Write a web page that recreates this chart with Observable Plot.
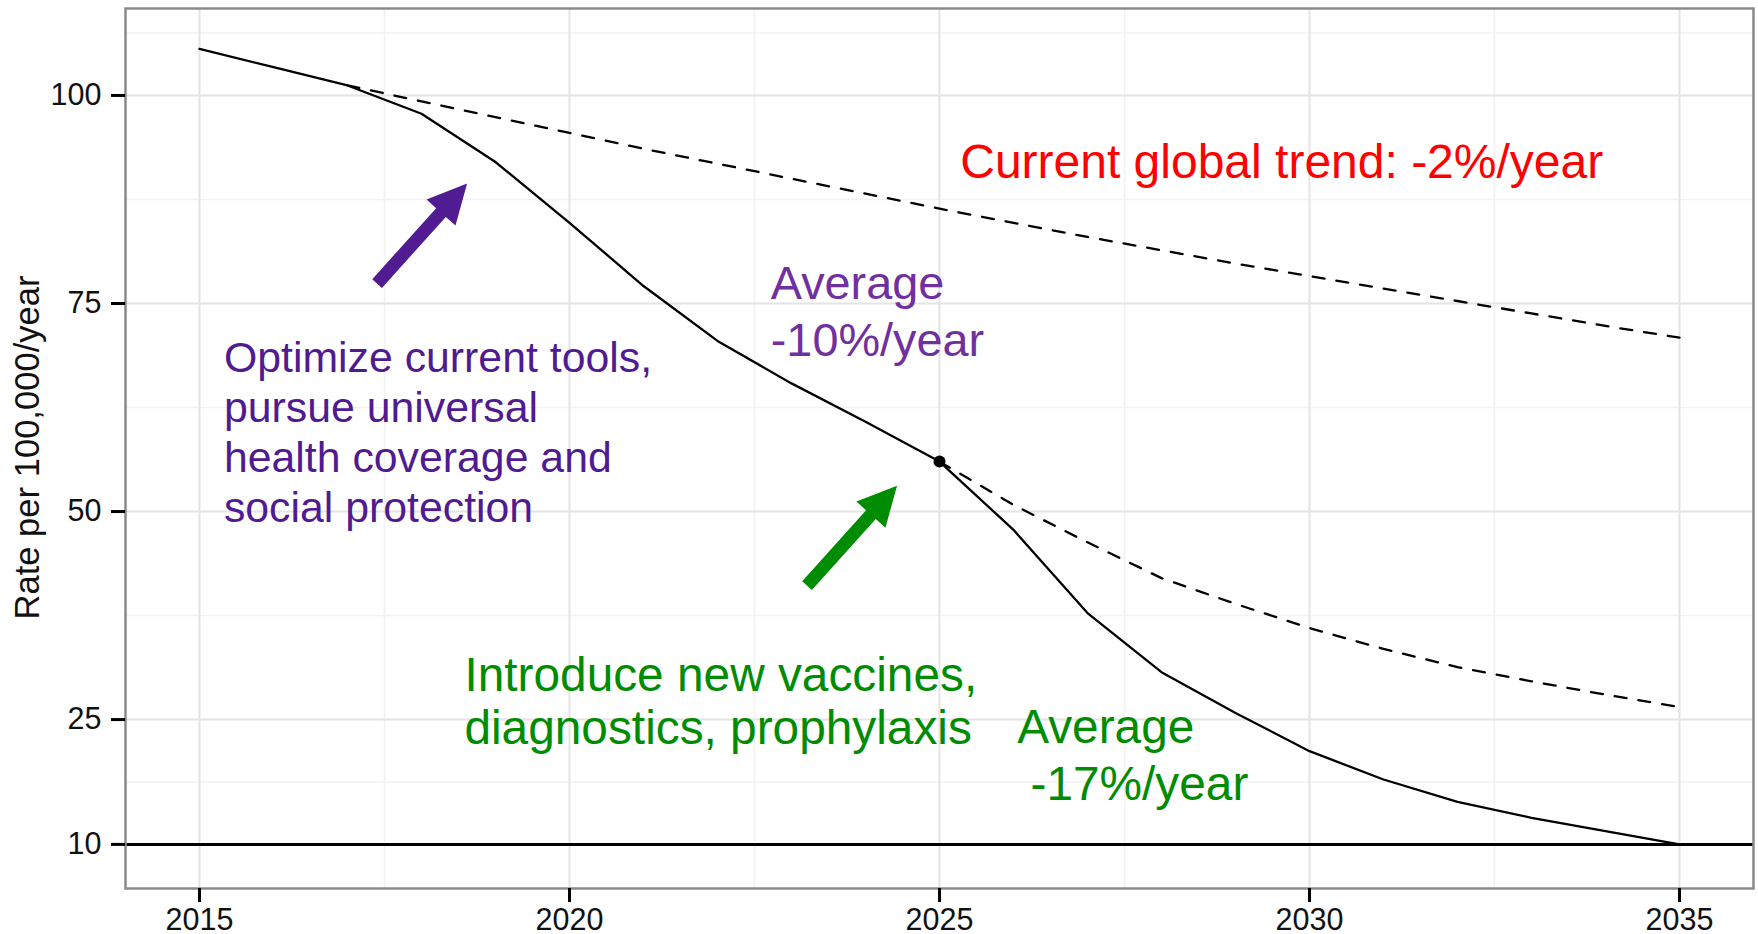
<!DOCTYPE html>
<html>
<head>
<meta charset="utf-8">
<script src="https://cdn.jsdelivr.net/npm/d3@7"></script>
<script src="https://cdn.jsdelivr.net/npm/@observablehq/plot@0.6"></script>
<style>
  html, body { margin: 0; padding: 0; background: #fff; }
  svg { display: block; }
</style>
</head>
<body>
<div id="chart"></div>
<script>
// ---- data ----
const years = [2015, 2016, 2017, 2018, 2019, 2020, 2021, 2022, 2023, 2024, 2025,
               2026, 2027, 2028, 2029, 2030, 2031, 2032, 2033, 2034, 2035];
const pathwayRates = [105.6, 103.4, 101.2, 97.8, 92.0, 84.7, 77.1, 70.5, 65.4, 60.8, 56.0,
                      47.8, 37.8, 30.7, 25.8, 21.2, 17.8, 15.1, 13.2, 11.6, 10.0];

const trendYears = [2017, 2018, 2019, 2020, 2021, 2022, 2023, 2024, 2025, 2026,
                    2027, 2028, 2029, 2030, 2031, 2032, 2033, 2034, 2035];
const trendRates = [101.2, 99.3, 97.4, 95.5, 93.6, 91.8, 90.0, 88.2, 86.4, 84.7,
                    83.0, 81.4, 79.8, 78.3, 76.8, 75.3, 73.8, 72.3, 70.9];

const trend2025Years = [2025, 2026, 2027, 2028, 2029, 2030, 2031, 2032, 2033, 2034, 2035];
const trend2025Rates = [56.0, 50.8, 46.3, 42.0, 38.9, 36.0, 33.5, 31.3, 29.6, 28.0, 26.5];

const milestone = [{year: 2025, rate: 56.0}];
const targetRate = [10];

const xTickValues = [2015, 2020, 2025, 2030, 2035];
const yTickValues = [10, 25, 50, 75, 100];
const xMinorGrid = [2017.5, 2022.5, 2027.5, 2032.5];
const yMinorGrid = [17.5, 37.5, 62.5, 87.5, 107.5];

const yTitle = "Rate per 100,000/year";
const annotationTexts = [
  "Current global trend: -2%/year",
  "Average\n-10%/year",
  "Optimize current tools,\npursue universal\nhealth coverage and\nsocial protection",
  "Introduce new vaccines,\ndiagnostics, prophylaxis",
  "Average\n\u00a0-17%/year"
];

// ---- tables built from the arrays ----
const pathway = years.map((y, i) => ({year: y, rate: pathwayRates[i]}));
const trend = trendYears.map((y, i) => ({year: y, rate: trendRates[i]}));
const trend2025 = trend2025Years.map((y, i) => ({year: y, rate: trend2025Rates[i]}));

// annotation placement (data coordinates) and style
const notes = [
  {x: 2025.28, y: 90.1, color: "#ff0000", size: 48, lh: 1},
  {x: 2022.72, y: 68.7, color: "#7030a0", size: 46.8, lh: 1.21},
  {x: 2015.33, y: 48.7, color: "#501b91", size: 42.8, lh: 1.17},
  {x: 2018.58, y: 22.1, color: "#008c00", size: 47.8, lh: 1.11},
  {x: 2026.05, y: 15.3, color: "#008c00", size: 47.8, lh: 1.19}
].map((n, i) => ({...n, text: annotationTexts[i]}));

const arrows = [
  {x: 2017.40, y: 77.4, color: "#511c91"},
  {x: 2023.21, y: 41.1, color: "#008c00"}
];

const blockArrow = {
  draw(ctx, l) {
    const w = 6.5, hl = 39, hw = 19.5;
    ctx.moveTo(-w, 0);
    ctx.lineTo(-w, hl - l);
    ctx.lineTo(-hw, hl - l);
    ctx.lineTo(0, -l);
    ctx.lineTo(hw, hl - l);
    ctx.lineTo(w, hl - l);
    ctx.lineTo(w, 0);
    ctx.closePath();
  }
};

const font = "'Liberation Sans', Arial, Helvetica, sans-serif";

const chart = Plot.plot({
  width: 1758,
  height: 934,
  marginLeft: 125,
  marginRight: 5,
  marginTop: 8,
  marginBottom: 46,
  style: {fontFamily: font, background: "#fff", color: "#000", overflow: "visible"},
  x: {domain: [2014, 2036]},
  y: {domain: [4.7, 110.45]},
  marks: [
    Plot.ruleX(xMinorGrid, {stroke: "#f2f2f2", strokeWidth: 1.6}),
    Plot.ruleY(yMinorGrid, {stroke: "#f2f2f2", strokeWidth: 1.6}),
    Plot.ruleX(xTickValues, {stroke: "#e4e4e4", strokeWidth: 2}),
    Plot.ruleY(yTickValues, {stroke: "#e4e4e4", strokeWidth: 2}),
    Plot.ruleY(targetRate, {stroke: "#000", strokeWidth: 3}),
    Plot.line(trend, {x: "year", y: "rate", stroke: "#000", strokeWidth: 2.3, strokeDasharray: "12,12"}),
    Plot.line(trend2025, {x: "year", y: "rate", stroke: "#000", strokeWidth: 2.3, strokeDasharray: "12,12"}),
    Plot.line(pathway, {x: "year", y: "rate", stroke: "#000", strokeWidth: 2.3}),
    Plot.dot(milestone, {x: "year", y: "rate", r: 6, fill: "#000", stroke: "none"}),
    ...arrows.map(a => Plot.vector([a], {
      x: "x", y: "y", length: 134.5, rotate: 42, anchor: "start",
      shape: blockArrow, fill: a.color, stroke: "none"
    })),
    ...notes.map(n => Plot.text([n], {
      x: "x", y: "y", text: "text", textAnchor: "start", lineAnchor: "bottom",
      lineHeight: n.lh, fontSize: n.size, fill: n.color, fontFamily: font
    })),
    Plot.frame({stroke: "#8a8a8a", strokeWidth: 2.5}),
    Plot.axisX(xTickValues, {
      tickSize: 14, tickPadding: 6, fontSize: 30.5, tickFormat: "d",
      strokeWidth: 3, label: null, fill: "#111"
    }),
    Plot.axisY(yTickValues, {
      tickSize: 14, tickPadding: 10, fontSize: 30.5, tickFormat: "d",
      strokeWidth: 3, label: null, fill: "#111"
    }),
    Plot.text([yTitle], {
      frameAnchor: "left", rotate: -90, dx: -98, dy: -1,
      fontSize: 34.6, textAnchor: "middle", fill: "#111", fontFamily: font
    })
  ]
});

document.getElementById("chart").appendChild(chart);
</script>
</body>
</html>
